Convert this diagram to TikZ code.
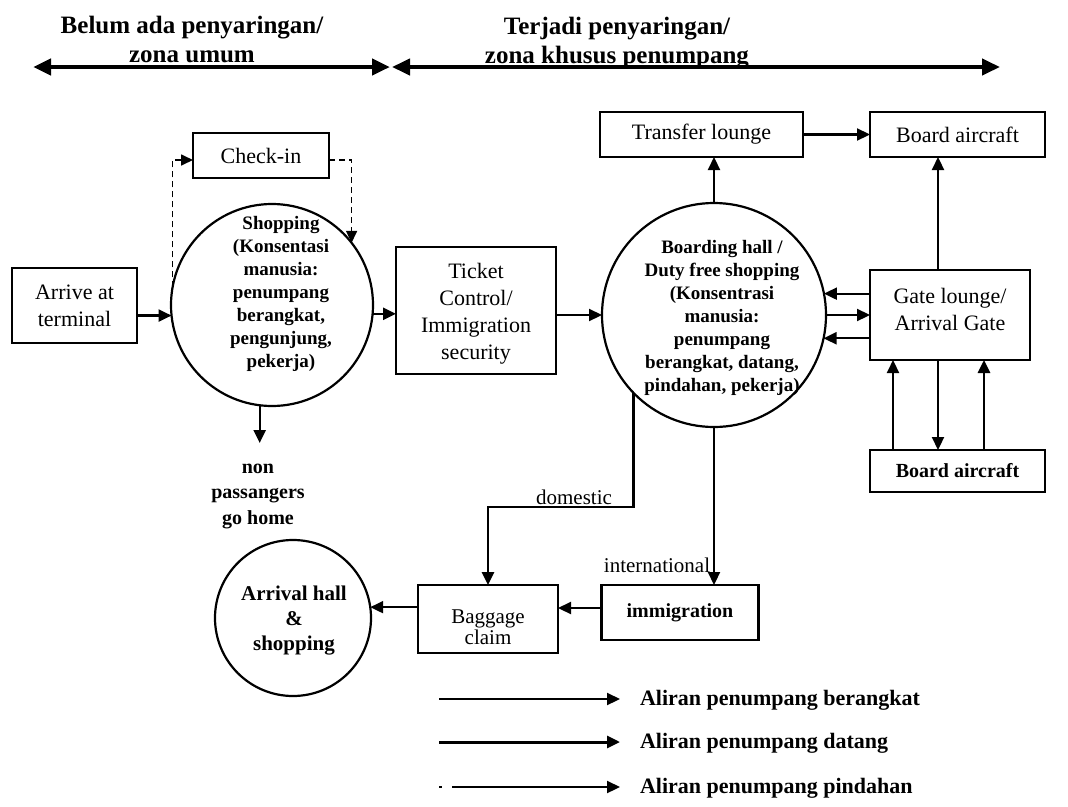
\documentclass[tikz,border=0pt]{standalone}
\usepackage{fontspec}
\setmainfont{Liberation Serif}
\usetikzlibrary{arrows.meta}
\begin{document}
\begin{tikzpicture}[x=1pt,y=-1pt,
  every node/.style={inner sep=0pt, outer sep=0pt},
  box/.style={draw, line width=2.2pt, align=center, font=\fontsize{22}{27}\selectfont},
  ring/.style={draw, circle, line width=2.2pt},
  ctext/.style={align=center, font=\bfseries\fontsize{19}{23}\selectfont},
  btext/.style={align=center, font=\fontsize{22}{27}\selectfont},
  hdr/.style={align=center, font=\bfseries\fontsize{25}{29}\selectfont},
  lbl/.style={align=center, font=\fontsize{21}{25}\selectfont},
  blbl/.style={align=center, font=\bfseries\fontsize{20}{25.5}\selectfont},
  legendtext/.style={anchor=west, font=\bfseries\fontsize{22}{25}\selectfont},
  flow/.style={-{Triangle[length=13pt,width=12pt]}, line width=2.2pt},
  chk/.style={-{Triangle[length=12pt,width=11pt]}, line width=1.7pt, dash pattern=on 6pt off 4pt},
  zone/.style={{Triangle[length=18pt,width=16pt]}-{Triangle[length=18pt,width=16pt]}, line width=4.8pt}
]
\useasboundingbox (0,0) rectangle (1068,806);

% zone headings and their double arrows
\node[hdr] (zoneA) at (192,39) {Belum ada penyaringan/\\zona umum};
\node[hdr] (zoneB) at (617,43.5) {Terjadi penyaringan/\\zona khusus penumpang};
\coordinate (zAl) at (33,67);
\coordinate (zAr) at (390,67);
\coordinate (zBl) at (392,67);
\coordinate (zBr) at (1000,67);
\draw[zone] (zAl) -- (zAr);
\draw[zone, line width=4pt] (zBl) -- (zBr);

% boxes and halls
\node[box, minimum width=125pt, minimum height=75pt] (arrive) at (74.5,305.5) {Arrive at\\terminal};
\node[box, minimum width=136pt, minimum height=45pt] (checkin) at (261,155.5) {Check-in};
\node[ring, minimum size=202pt] (shop) at (272,305) {};
\node[ctext] (shoptxt) at (281,294) {Shopping\\(Konsentasi\\manusia:\\penumpang\\berangkat,\\pengunjung,\\pekerja)};
\node[box, minimum width=160pt, minimum height=127pt] (ticket) at (476,310.5) {};
\node[btext] (tickettxt) at (476,313.5) {Ticket\\Control/\\Immigration\\security};
\node[ring, minimum size=224pt] (board) at (714,315) {};
\node[ctext] (boardtxt) at (722,318) {Boarding hall /\\Duty free shopping\\(Konsentrasi\\manusia:\\penumpang\\berangkat, datang,\\pindahan, pekerja)};
\node[box, minimum width=203pt, minimum height=45pt] (transfer) at (701.5,134.5) {Transfer lounge};
\node[box, minimum width=175pt, minimum height=45pt] (boardtop) at (957.5,134.5) {Board aircraft};
\node[box, minimum width=160pt, minimum height=90pt] (gate) at (950,315) {};
\node[btext] (gatetxt) at (950,309) {Gate lounge/\\Arrival Gate};
\node[box, minimum width=175pt, minimum height=42pt, font=\bfseries\fontsize{20}{24}\selectfont] (boardbot) at (957.5,471) {Board aircraft};
\node[box, minimum width=140pt, minimum height=68pt] (baggage) at (488,619) {};
\node[btext, font=\fontsize{21}{21.5}\selectfont] (baggagetxt) at (488,627) {Baggage\\claim};
\node[box, minimum width=157pt, minimum height=55pt, font=\bfseries\fontsize{20}{24}\selectfont] (immig) at (680,612.5) {immigration};
\node[ring, minimum size=156pt] (arrival) at (293,618) {};
\node[align=center, font=\bfseries\fontsize{21}{25}\selectfont] (arrivaltxt) at (294,621) {Arrival hall\\\&\\shopping};

% free labels
\node[blbl] (nonpass) at (258,496) {non\\passangers\\go home};
\node[lbl] (domlbl) at (574,497) {domestic};
\node[lbl] (intlbl) at (657,565) {international};

% check-in loop
\draw[chk] (shop.170) |- ([yshift=-4.5pt]checkin.west);
\draw[chk] ([yshift=-4.5pt]checkin.east) -| (shop.38);

% main flows
\draw[flow] (arrive.east |- shop.186) -- (shop.186);
\draw[flow] (shop.-5) -- (ticket.west |- shop.-5);
\draw[flow] (ticket.east |- board.west) -- (board.west);
\draw[flow] (board.north) -- (board.north |- transfer.south);
\draw[flow] (transfer.east) -- (boardtop.west);
\draw[flow] (gate.north -| 938,0) -- (boardtop.south -| 938,0);
\draw[flow] (gate.west |- board.11) -- (board.11);
\draw[flow] (board.east) -- (gate.west);
\draw[flow] (gate.west |- board.-12) -- (board.-12);
\draw[flow] (boardbot.north -| 893,0) -- (gate.south -| 893,0);
\draw[flow] (gate.south -| 938,0) -- (boardbot.north -| 938,0);
\draw[flow, line width=2.8pt] (boardbot.north -| 984,0) -- (gate.south -| 984,0);

\coordinate (nonend) at (260,443);
\draw[flow] (shop.-97) -- (shop.-97 |- nonend);

\coordinate (domturn) at (488,507);
\draw[flow, line width=2.7pt] (board.224) |- (domturn) -- (baggage.north);
\draw[flow] (board.south) -- (board.south |- immig.north);
\draw[flow] (immig.west |- 0,608) -- (baggage.east |- 0,608);
\draw[flow] (baggage.west |- arrival.8) -- (arrival.8);

% legend
\node[legendtext] (lg1) at (640,700) {Aliran penumpang berangkat};
\node[legendtext] (lg2) at (640,743) {Aliran penumpang datang};
\node[legendtext] (lg3) at (640,788) {Aliran penumpang pindahan};
\coordinate (lg1s) at (439,699);
\coordinate (lg2s) at (439,742);
\coordinate (lg3s) at (439,787);
\draw[flow, shorten >=20pt] (lg1s) -- (lg1s -| lg1.west);
\draw[flow, line width=3pt, shorten >=20pt] (lg2s) -- (lg2s -| lg2.west);
\draw[flow, dash pattern=on 3pt off 10pt on 400pt, shorten >=20pt] (lg3s) -- (lg3s -| lg3.west);
\end{tikzpicture}
\end{document}
